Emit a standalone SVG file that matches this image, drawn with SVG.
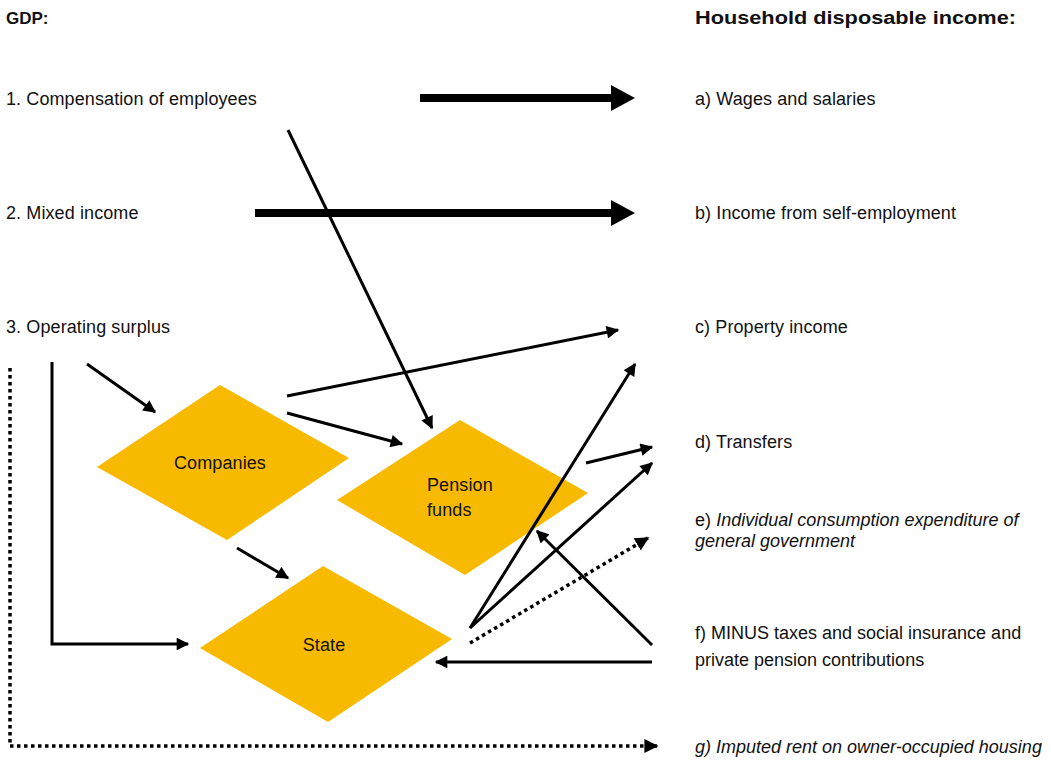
<svg xmlns="http://www.w3.org/2000/svg" width="1051" height="763" viewBox="0 0 1051 763">
  <defs>
    <marker id="head" viewBox="0 0 10 10" refX="9" refY="5" markerWidth="4.6" markerHeight="4.2" markerUnits="strokeWidth" orient="auto">
      <path d="M0,0 L10,5 L0,10 z" fill="#000"/>
    </marker>
    <marker id="dothead" viewBox="0 0 10 10" refX="9" refY="5" markerWidth="4" markerHeight="4" markerUnits="strokeWidth" orient="auto">
      <path d="M0,0 L10,5 L0,10 z" fill="#000"/>
    </marker>
  </defs>
  <style>
    text { font-family: "Liberation Sans", Arial, sans-serif; font-size: 18px; letter-spacing: 0.1px; fill: #111; }
    .bold { font-weight: bold; font-size: 17px; letter-spacing: 0; }
    .head { font-size: 18px; }
    .it { font-style: italic; letter-spacing: 0; }
    .node { fill: #F8BA00; }
    .thick { stroke: #000; stroke-width: 8; fill: none; }
    .tip { fill: #000; }
    .line { stroke: #000; stroke-width: 3; fill: none; marker-end: url(#head); }
    .dots { stroke: #000; stroke-width: 3.5; fill: none; stroke-dasharray: 3.5 3.5; marker-end: url(#dothead); }
  </style>

  <rect width="1051" height="763" fill="#fff"/>

  <!-- column headings and items -->
  <g id="labels">
    <text class="bold" x="6" y="24">GDP:</text>
    <text class="bold head" x="695" y="24" textLength="321" lengthAdjust="spacingAndGlyphs">Household disposable income:</text>
    <text x="6" y="105">1. Compensation of employees</text>
    <text x="6" y="219">2. Mixed income</text>
    <text x="6" y="333">3. Operating surplus</text>
    <text x="695" y="105">a) Wages and salaries</text>
    <text x="695" y="219">b) Income from self-employment</text>
    <text x="695" y="333">c) Property income</text>
    <text x="695" y="448">d) Transfers</text>
    <text x="695" y="526">e) <tspan class="it">Individual consumption expenditure of</tspan></text>
    <text class="it" x="695" y="547">general government</text>
    <text x="695" y="639" style="letter-spacing:0">f) MINUS taxes and social insurance and</text>
    <text x="695" y="666" style="letter-spacing:0">private pension contributions</text>
    <text class="it" x="695" y="753">g) Imputed rent on owner-occupied housing</text>
  </g>

  <g id="companies">
    <polygon class="node" points="220,385 349,458 227,540 97,467"/>
    <text x="220" y="469" text-anchor="middle">Companies</text>
  </g>
  <g id="pension-funds">
    <polygon class="node" points="460,420 588,493 465,575 337,500"/>
    <text x="427" y="491">Pension</text>
    <text x="427" y="516">funds</text>
  </g>
  <g id="state">
    <polygon class="node" points="323,566 452,639 328,722 200,648"/>
    <text x="324" y="651" text-anchor="middle">State</text>
  </g>

  <g id="connectors">
    <!-- broad flows -->
    <line class="thick" x1="420" y1="98" x2="612" y2="98"/>
    <polygon class="tip" points="611,85 635,98 611,111"/>
    <line class="thick" x1="255" y1="213" x2="612" y2="213"/>
    <polygon class="tip" points="611,200 635,213 611,226"/>
    <!-- single flows -->
    <line class="line" x1="288" y1="130" x2="432" y2="428"/>
    <line class="line" x1="87" y1="364" x2="155" y2="412"/>
    <line class="line" x1="287" y1="396" x2="618" y2="330"/>
    <line class="line" x1="287" y1="413" x2="402" y2="444"/>
    <line class="line" x1="237" y1="548" x2="288" y2="578"/>
    <polyline class="line" points="52,362 52,644 188,644"/>
    <polyline class="dots" points="10,368 10,746 657,746"/>
    <line class="line" x1="470" y1="628" x2="635" y2="364"/>
    <line class="line" x1="470" y1="628" x2="652" y2="463"/>
    <line class="dots" x1="470" y1="643" x2="648" y2="538"/>
    <line class="line" x1="586" y1="463" x2="652" y2="447"/>
    <line class="line" x1="652" y1="645" x2="537" y2="531"/>
    <line class="line" x1="652" y1="662" x2="436" y2="662"/>
  </g>
</svg>
